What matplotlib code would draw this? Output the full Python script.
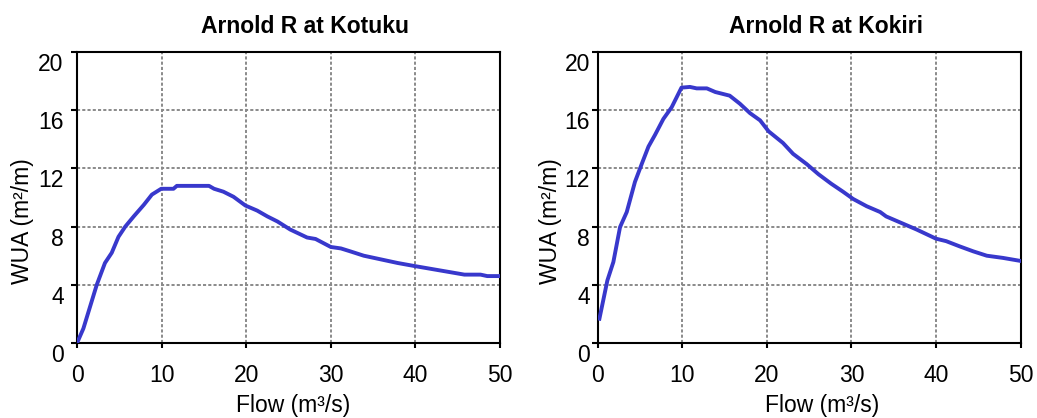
import matplotlib

matplotlib.use("Agg")
import matplotlib.pyplot as plt
from matplotlib.transforms import ScaledTranslation

plt.rcParams["font.family"] = ["Liberation Sans", "DejaVu Sans"]

# Arnold R at Kotuku
kotuku_flow = [0.0, 0.75, 1.54, 2.33, 3.3, 4.1, 4.9, 5.7, 6.7, 7.9, 8.85, 9.95,
               11.4, 11.8, 15.6, 16.2, 17.3, 18.5, 19.9, 21.3, 22.5, 23.7, 25.2,
               27.2, 28.2, 30.0, 31.2, 32.3, 33.9, 35.9, 37.9, 39.8, 41.8, 43.8,
               45.8, 47.7, 48.5, 50.0]
kotuku_wua = [0.0, 1.0, 2.5, 4.0, 5.5, 6.2, 7.3, 8.0, 8.7, 9.5, 10.2, 10.6,
              10.6, 10.8, 10.8, 10.6, 10.4, 10.05, 9.45, 9.1, 8.7, 8.35, 7.8,
              7.25, 7.15, 6.6, 6.5, 6.3, 6.0, 5.75, 5.5, 5.3, 5.1, 4.9,
              4.7, 4.7, 4.6, 4.6]

# Arnold R at Kokiri
kokiri_flow = [0.2, 1.14, 1.85, 2.64, 3.43, 4.4, 5.2, 6.0, 6.77, 7.76, 8.74, 9.9,
               10.9, 11.7, 12.9, 13.9, 15.6, 16.8, 18.0, 19.2, 20.2, 21.9, 23.1,
               24.7, 26.1, 27.6, 29.0, 30.2, 31.8, 33.4, 34.1, 35.7, 37.7, 40.0,
               41.2, 42.8, 44.4, 46.0, 47.9, 50.0]
kokiri_wua = [1.67, 4.3, 5.57, 7.97, 9.0, 11.07, 12.3, 13.5, 14.3, 15.4, 16.2, 17.55,
              17.6, 17.5, 17.5, 17.25, 17.0, 16.45, 15.8, 15.3, 14.55, 13.75, 13.0,
              12.3, 11.6, 10.95, 10.4, 9.9, 9.4, 9.0, 8.7, 8.3, 7.8, 7.17,
              7.0, 6.64, 6.3, 6.0, 5.85, 5.64]

titles = ["Arnold R at Kotuku", "Arnold R at Kokiri"]
x_ticks = [0, 10, 20, 30, 40, 50]
y_ticks = [0, 4, 8, 12, 16, 20]

# per panel: axes left, y tick pad, ylabel x, xlabel x
panels = [
    (titles[0], kotuku_flow, kotuku_wua, 0.0743, 5.3, -0.102, 0.511),
    (titles[1], kokiri_flow, kokiri_wua, 0.5764, 1.2, -0.084, 0.53),
]

fig = plt.figure(figsize=(10.37, 4.18), dpi=100)
shift_down = ScaledTranslation(0, -0.10, fig.dpi_scale_trans)

for title, flow, wua, left, ypad, ylab_x, xlab_x in panels:
    ax = fig.add_axes([left, 0.1794, 0.4078, 0.6962])
    ax.plot(flow, wua, color="#3838CC", linewidth=2.8, solid_joinstyle="round",
            zorder=3)
    ax.set_xlim(0, 50)
    ax.set_ylim(0, 20)
    ax.set_xticks(x_ticks)
    ax.set_yticks(y_ticks)
    ax.grid(True, color="#8a8a8a", linestyle=(0, (1.6, 1.1)), linewidth=1.4)
    for sp in ax.spines.values():
        sp.set_linewidth(1.5)
        sp.set_color("black")
    ax.tick_params(direction="out", width=1.5, labelsize=16.5)
    ax.tick_params(axis="x", length=3.6, pad=11.5)
    ax.tick_params(axis="y", length=4.3, pad=ypad)
    # y labels in the original hang just below their ticks
    for lab in ax.get_yticklabels():
        lab.set_transform(lab.get_transform() + shift_down)

    ax.set_title(title, fontsize=16.5, fontweight="bold", pad=14, x=0.54)
    ax.set_xlabel("Flow (m³/s)", fontsize=16.5)
    ax.xaxis.set_label_coords(xlab_x, -0.175)
    ax.set_ylabel("WUA (m²/m)", fontsize=16.5)
    ax.yaxis.set_label_coords(ylab_x, 0.42)

fig.savefig("out.png", dpi=100)
